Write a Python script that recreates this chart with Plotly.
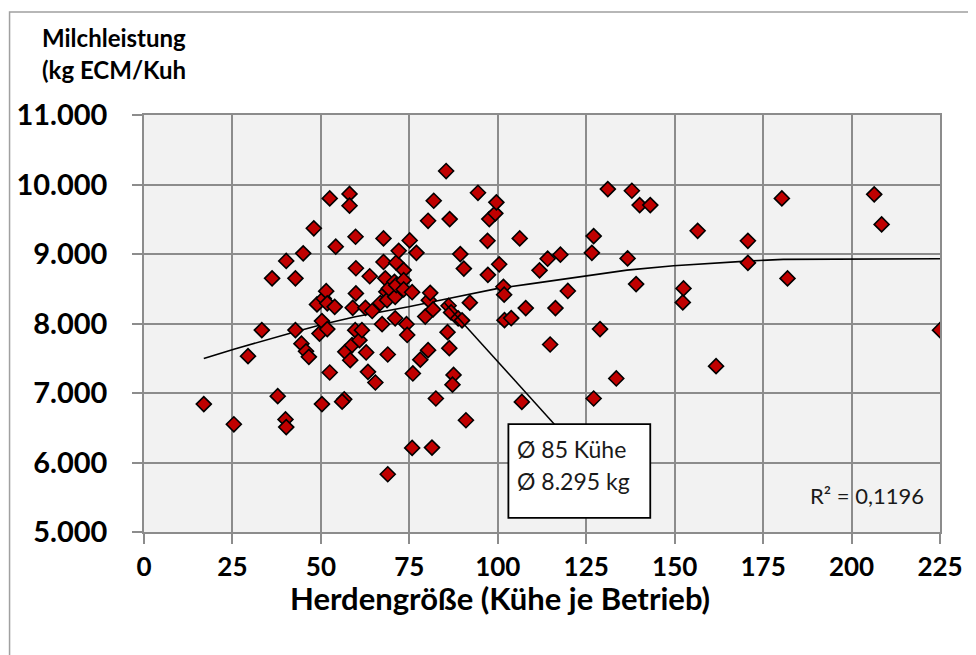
import plotly.graph_objects as go

# Herdengröße (Kühe je Betrieb) und Milchleistung (kg ECM/Kuh)
herd = [16.9, 25.4, 29.4, 33.3, 36.2, 37.8, 40.0, 40.2, 40.2, 42.8,
        42.8, 44.5, 45.0, 45.8, 46.6, 48.0, 48.9, 49.6, 50.3, 50.3,
        50.8, 51.5, 51.8, 51.8, 52.5, 52.5, 53.9, 54.2, 56.6, 56.0,
        56.9, 58.1, 58.1, 58.3, 58.8, 59.0, 59.7, 59.8, 59.9, 59.9,
        60.9, 61.6, 62.6, 62.8, 63.3, 63.8, 64.5, 65.4, 66.8, 67.3,
        67.7, 67.7, 68.2, 68.5, 68.7, 68.9, 68.9, 69.2, 70.8, 71.0,
        71.0, 71.3, 71.3, 72.0, 73.4, 73.4, 73.4, 74.2, 74.4, 75.1,
        75.8, 75.8, 76.0, 77.0, 78.1, 79.5, 80.3, 80.3, 80.5, 80.9,
        81.4, 81.7, 81.9, 82.5, 85.4, 85.8, 86.1, 86.3, 86.4, 87.5,
        87.2, 86.8, 88.8, 89.4, 89.9, 90.4, 91.0, 92.1, 94.4, 97.1,
        97.2, 97.6, 99.3, 99.6, 100.4, 101.6, 101.8, 101.9, 103.8, 106.2,
        106.8, 107.9, 111.8, 114.1, 114.8, 116.3, 117.7, 119.8, 126.6, 127.1,
        127.1, 128.9, 131.1, 133.5, 136.7, 137.9, 139.1, 140.1, 143.1, 152.3,
        152.5, 156.5, 161.7, 170.7, 170.7, 180.3, 181.9, 206.4, 208.5, 225.0]
milk = [6840, 6550, 7530, 7905, 8650, 6955, 6620, 6510, 8900, 8650,
        7905, 7710, 9010, 7600, 7520, 9370, 8275, 7855, 8035, 6840,
        8360, 8465, 8290, 7920, 9800, 7295, 8240, 9105, 6910, 6875,
        7592, 9865, 9695, 7472, 7688, 8226, 7904, 9248, 8433, 8795,
        7760, 7904, 8226, 7583, 7304, 8680, 8180, 7151, 8295, 7990,
        9224, 8885, 8650, 8456, 8336, 7554, 5831, 8505, 8600, 8384,
        8075, 8875, 8552, 9046, 8768, 8624, 8490, 7990, 7835, 9195,
        8450, 6210, 7281, 9017, 7480, 8100, 9478, 7616, 8336, 8441,
        6215, 8202, 9766, 6921, 10194, 7875, 8255, 7645, 9502, 7260,
        7120, 8160, 8073, 8999, 8045, 8790, 6608, 8300, 9881, 9190,
        8700, 9502, 9585, 9743, 8852, 8528, 8415, 8048, 8078, 9224,
        6872, 8222, 8765, 8932, 7698, 8222, 8990, 8468, 9017, 9258,
        6921, 7920, 9934, 7209, 8937, 9910, 8567, 9704, 9704, 8303,
        8505, 9334, 7386, 9190, 8873, 9800, 8649, 9858, 9426, 7904]

trend_x = [16.9, 25.4, 42.8, 50.3, 59.7, 74.8, 86.1, 100.1, 108.7, 118.1,
           125.2, 136.5, 149.7, 161.0, 170.4, 180.7, 225.0]
trend_y = [7497, 7631, 7880, 7986, 8096, 8240, 8361, 8505, 8567, 8636,
           8696, 8768, 8830, 8873, 8898, 8922, 8931]

mean_herd = 85
mean_milk = 8295

FONT = "Lato"
GRID = "#8C8C8C"

fig = go.Figure()
fig.add_trace(go.Scatter(
    x=trend_x, y=trend_y, mode="lines",
    line=dict(color="black", width=1.6),
    hoverinfo="skip", showlegend=False))
fig.add_trace(go.Scatter(
    x=herd, y=milk, mode="markers",
    marker=dict(symbol="diamond", size=11.5, color="#C00000",
                line=dict(color="black", width=1.6)),
    showlegend=False))

# Kasten mit Mittelwerten
fig.add_shape(type="line", x0=mean_herd, y0=mean_milk, x1=116, y1=6551,
              line=dict(color="black", width=1.5))
fig.add_shape(type="rect", x0=103, x1=143.1, y0=5202, y1=6551,
              fillcolor="white", line=dict(color="black", width=1.8))
fig.add_annotation(x=105.0, y=6200, xref="x", yref="y",
                   text="Ø 85 Kühe", showarrow=False, xanchor="left",
                   yanchor="middle",
                   font=dict(family=FONT, size=23, color="#1a1a1a"))
fig.add_annotation(x=105.0, y=5735, xref="x", yref="y",
                   text="Ø 8.295 kg", showarrow=False, xanchor="left",
                   yanchor="middle",
                   font=dict(family=FONT, size=23, color="#1a1a1a"))
fig.add_annotation(x=221.0, y=5528, xref="x", yref="y",
                   text="R² = 0,1196", showarrow=False, xanchor="right",
                   yanchor="middle",
                   font=dict(family=FONT, size=22, color="#1a1a1a"))

# Achsentitel
fig.add_annotation(x=-0.131, y=1.185, xref="paper", yref="paper",
                   text="Milchleistung", showarrow=False, xanchor="left",
                   yanchor="middle",
                   font=dict(family=FONT, size=24, color="black", weight="bold"))
fig.add_annotation(x=-0.131, y=1.11, xref="paper", yref="paper",
                   text="(kg ECM/Kuh", showarrow=False, xanchor="left",
                   yanchor="middle",
                   font=dict(family=FONT, size=24, color="black", weight="bold"))
fig.add_annotation(x=0.4476, y=-0.159, xref="paper", yref="paper",
                   text="Herdengröße (Kühe je Betrieb)", showarrow=False,
                   xanchor="center", yanchor="middle",
                   font=dict(family=FONT, size=31, color="black", weight="bold"))

# Rahmen um das Diagramm
fig.add_shape(type="rect", xref="paper", yref="paper",
              x0=-0.1689, x1=1.06, y0=-0.33, y1=1.2472,
              line=dict(color="#A0A0A0", width=1.5))

fig.update_xaxes(range=[0, 225], dtick=25, tick0=0, automargin=False,
                 showgrid=True, gridcolor=GRID, gridwidth=1.5,
                 showline=True, mirror=True, linecolor=GRID, linewidth=1.5,
                 ticks="outside", ticklen=10, tickcolor=GRID, tickwidth=1.5,
                 ticklabelstandoff=1, zeroline=False,
                 tickfont=dict(family=FONT, size=26, color="black", weight="bold"))
fig.update_yaxes(range=[5000, 11000], dtick=1000, tickformat=",d",
                 automargin=False,
                 showgrid=True, gridcolor=GRID, gridwidth=1.5,
                 showline=True, mirror=True, linecolor=GRID, linewidth=1.5,
                 ticks="outside", ticklen=10, tickcolor=GRID, tickwidth=1.5,
                 ticklabelstandoff=19, zeroline=False,
                 tickfont=dict(family=FONT, size=29, color="black", weight="bold"))

# Seite hat 8px Rand, daher etwas kleiner und verschoben
fig.update_layout(
    width=968, height=647, autosize=False,
    margin=dict(l=135.5, r=36, t=107, b=123.3),
    plot_bgcolor="#F2F2F2", paper_bgcolor="white",
    separators=",.",
    font=dict(family=FONT),
)

fig.write_html("out.html")
